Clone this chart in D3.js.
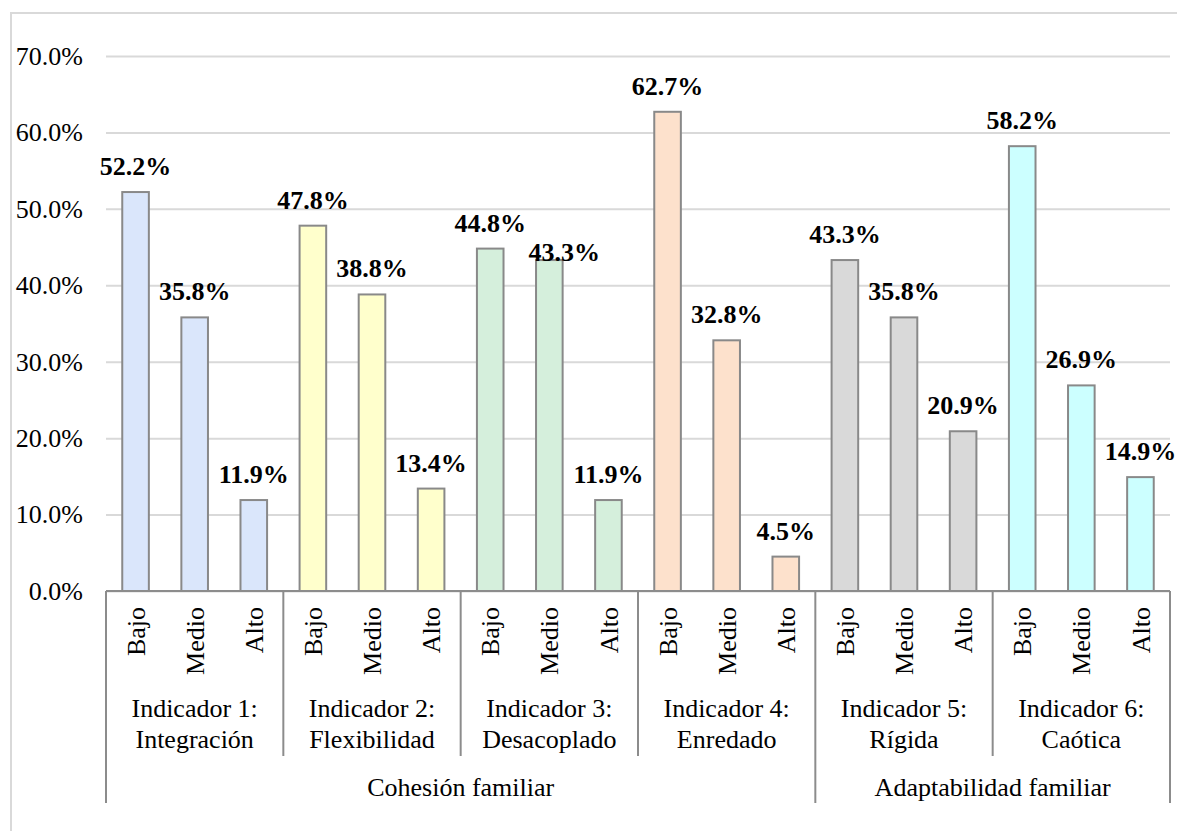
<!DOCTYPE html>
<html>
<head>
<meta charset="utf-8">
<script src="https://cdn.jsdelivr.net/npm/d3@7"></script>
<style>
  body { margin: 0; background: #fff; }
  svg { font-family: "Liberation Serif", "Times New Roman", serif; }
</style>
</head>
<body>
<div id="chart"></div>
<script>
// data
var groupNames = ["Cohesión familiar", "Adaptabilidad familiar"];
var indicatorLines = [
    ["Indicador 1:", "Integración"],
    ["Indicador 2:", "Flexibilidad"],
    ["Indicador 3:", "Desacoplado"],
    ["Indicador 4:", "Enredado"],
    ["Indicador 5:", "Rígida"],
    ["Indicador 6:", "Caótica"]
];
var indicatorGroup = [0, 0, 0, 0, 1, 1];
var levels = ["Bajo", "Medio", "Alto"];
var values = [
    [52.2, 35.8, 11.9],
    [47.8, 38.8, 13.4],
    [44.8, 43.3, 11.9],
    [62.7, 32.8, 4.5],
    [43.3, 35.8, 20.9],
    [58.2, 26.9, 14.9]
];
var barColors = ["#dae6fb", "#ffffcc", "#d5efdc", "#fde1cc", "#d9d9d9", "#ccffff"];
var yTicks = [0, 10, 20, 30, 40, 50, 60, 70];

// flat list of bars
var bars = [];
values.forEach(function(row, g) {
    row.forEach(function(v, l) {
        bars.push({ g: g, level: levels[l], value: v, i: bars.length });
    });
});

var W = 1177, H = 831;
var plotLeft = 106, plotRight = 1170, base = 591, plotTop = 56;
var fs = 26;

var svg = d3.select("#chart").append("svg")
    .attr("width", W).attr("height", H);

// outer frame (cut off on the right and bottom like the picture)
svg.append("path")
    .attr("d", "M11,835V13H1180")
    .attr("fill", "none").attr("stroke", "#d9d9d9").attr("stroke-width", 2);

var y = d3.scaleLinear().domain([0, 70]).range([base, plotTop]);
var x = d3.scaleBand().domain(bars.map(function(d) { return d.i; }))
    .range([plotLeft, plotRight]).paddingInner(0.55).paddingOuter(0.275);
var step = x.step();

// y axis with gridlines
var yAxis = svg.append("g")
    .attr("transform", "translate(" + plotLeft + ",0)")
    .call(d3.axisLeft(y).tickValues(yTicks).tickSize(-(plotRight - plotLeft)).tickPadding(23)
        .tickFormat(function(d) { return d.toFixed(1) + "%"; }));
yAxis.select(".domain").remove();
yAxis.selectAll(".tick line").attr("stroke", "#d9d9d9").attr("stroke-width", 2);
yAxis.selectAll(".tick text").attr("fill", "#000")
    .style("font-size", fs + "px").style("font-family", "Liberation Serif");

// bars
svg.selectAll("rect.bar").data(bars).enter().append("rect")
    .attr("class", "bar")
    .attr("x", function(d) { return x(d.i); })
    .attr("width", x.bandwidth())
    .attr("y", function(d) { return y(d.value); })
    .attr("height", function(d) { return base - y(d.value); })
    .attr("fill", function(d) { return barColors[d.g]; })
    .attr("stroke", "#898989").attr("stroke-width", 2);

// value labels (Medio of indicador 3 was moved in the original)
var nudge = { 7: [15, 18] };
svg.selectAll("text.val").data(bars).enter().append("text")
    .attr("class", "val")
    .attr("x", function(d) { return x(d.i) + x.bandwidth() / 2 + (nudge[d.i] ? nudge[d.i][0] : 0); })
    .attr("y", function(d) { return y(d.value) - 17 + (nudge[d.i] ? nudge[d.i][1] : 0); })
    .attr("text-anchor", "middle")
    .style("font-size", fs + "px").style("font-weight", "bold")
    .text(function(d) { return d.value.toFixed(1) + "%"; });

// category axis
var axisColor = "#8c8c8c";
var rowInd = 756, rowGroup = 803;

svg.append("line")
    .attr("x1", plotLeft).attr("x2", plotRight).attr("y1", base).attr("y2", base)
    .attr("stroke", axisColor).attr("stroke-width", 2);

// group boundaries
d3.range(indicatorLines.length + 1).forEach(function(k) {
    var xx = plotLeft + k * 3 * step;
    var isOuter = k == 0 || k == indicatorLines.length || indicatorGroup[k] != indicatorGroup[k - 1];
    svg.append("line")
        .attr("x1", xx).attr("x2", xx).attr("y1", base)
        .attr("y2", isOuter ? rowGroup : rowInd)
        .attr("stroke", axisColor).attr("stroke-width", 2);
});

// rotated level labels
svg.selectAll("text.lvl").data(bars).enter().append("text")
    .attr("class", "lvl")
    .attr("transform", function(d) {
        return "translate(" + (x(d.i) + x.bandwidth() / 2) + ",607) rotate(-90)";
    })
    .attr("text-anchor", "end").attr("dy", "0.35em")
    .style("font-size", fs + "px")
    .text(function(d) { return d.level; });

// indicator labels
indicatorLines.forEach(function(lines, k) {
    var cx = plotLeft + (k * 3 + 1.5) * step;
    lines.forEach(function(t, j) {
        svg.append("text")
            .attr("x", cx).attr("y", 717 + j * 31)
            .attr("text-anchor", "middle")
            .style("font-size", fs + "px")
            .text(t);
    });
});

// group labels
groupNames.forEach(function(name, gi) {
    var ks = indicatorGroup.map(function(g, k) { return g == gi ? k : -1; })
        .filter(function(k) { return k >= 0; });
    var x0 = plotLeft + ks[0] * 3 * step;
    var x1 = plotLeft + (ks[ks.length - 1] + 1) * 3 * step;
    svg.append("text")
        .attr("x", (x0 + x1) / 2).attr("y", 796)
        .attr("text-anchor", "middle")
        .style("font-size", fs + "px")
        .text(name);
});
</script>
</body>
</html>
